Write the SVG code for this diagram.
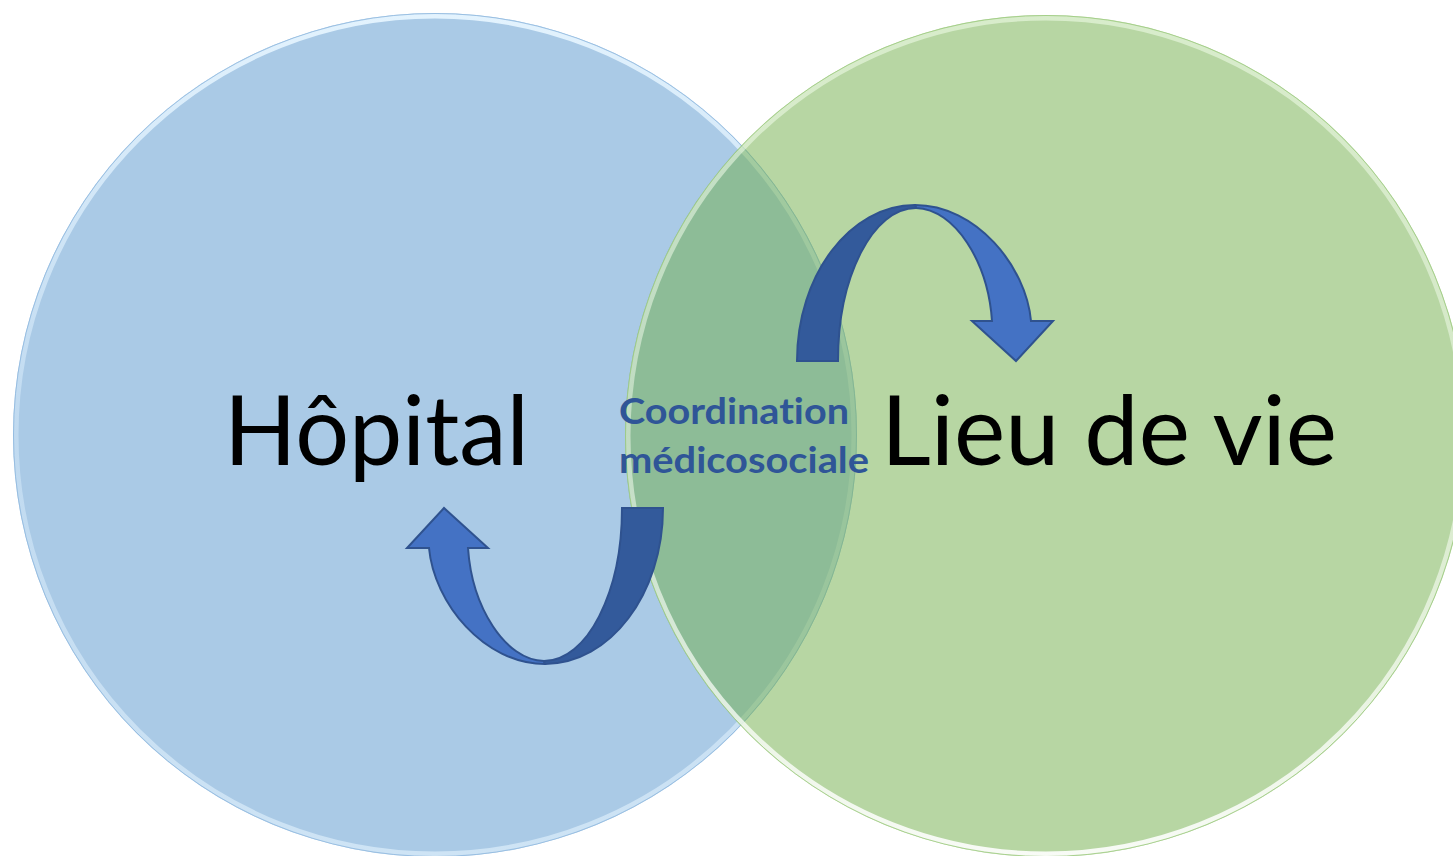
<svg xmlns="http://www.w3.org/2000/svg" width="1453" height="856" viewBox="0 0 1453 856">
  <defs>
    <style>
      .big { font-family: Lato, "Liberation Sans", sans-serif; font-size: 96px; fill: #000000; font-variant-ligatures: none; }
      .coord { font-family: Lato, "Liberation Sans", sans-serif; font-weight: bold; font-size: 37px; fill: #2F5597; font-variant-ligatures: none; }
      .dark { fill: #335A9B; stroke: #2F528F; stroke-width: 2; stroke-linejoin: miter; }
      .light { fill: #4472C4; stroke: #2F528F; stroke-width: 2; stroke-linejoin: miter; }
    </style>
    <linearGradient id="blueRim" x1="0" y1="0" x2="0" y2="1">
      <stop offset="0" stop-color="#e6f5ff" stop-opacity="0.95"/>
      <stop offset="0.5" stop-color="#d6eafa" stop-opacity="0.5"/>
      <stop offset="1" stop-color="#e6f5ff" stop-opacity="0.6"/>
    </linearGradient>
    <linearGradient id="greenRim" x1="0" y1="0" x2="0" y2="1">
      <stop offset="0" stop-color="#eefbe6" stop-opacity="0.6"/>
      <stop offset="0.5" stop-color="#f2fbec" stop-opacity="0.5"/>
      <stop offset="1" stop-color="#ffffff" stop-opacity="0.9"/>
    </linearGradient>
    <g id="curvedArrow">
      <path class="light" d="M 915,205 C 976,205 1026,266 1031,321 L 1053,321 L 1016,361 L 972,321 L 992,321 C 988,262 955,209 916,208 Z"/>
      <path class="dark" d="M 797,361 C 797,275 850,205 915,205 L 916,208 C 873,208 838,276 838,361 Z"/>
    </g>
  </defs>

  <g id="hopital">
    <circle cx="435" cy="435" r="422" fill="#AACAE6"/>
    <circle cx="435" cy="435" r="419" fill="none" stroke="url(#blueRim)" stroke-width="5"/>
    <circle cx="435" cy="435" r="421.5" fill="none" stroke="#8fb8df" stroke-width="1" opacity="0.8"/>
  </g>

  <g id="lieu-de-vie">
    <circle cx="1046" cy="436" r="421" fill="#70AD47" fill-opacity="0.5"/>
    <circle cx="1046" cy="436" r="418" fill="none" stroke="url(#greenRim)" stroke-width="5"/>
    <circle cx="1046" cy="436" r="420.5" fill="none" stroke="#9ccb7e" stroke-width="1" opacity="0.8"/>
  </g>

  <g id="connectors">
    <use href="#curvedArrow"/>
    <use href="#curvedArrow" transform="rotate(180 730 434.5)"/>
  </g>

  <g id="labels">
    <text class="big" x="224" y="465" textLength="305" lengthAdjust="spacingAndGlyphs">Hôpital</text>
    <text class="big" x="881" y="465" textLength="456" lengthAdjust="spacingAndGlyphs">Lieu de vie</text>
    <text class="coord" x="619" y="424" textLength="230" lengthAdjust="spacingAndGlyphs">Coordination</text>
    <text class="coord" x="619" y="473" textLength="250" lengthAdjust="spacingAndGlyphs">médicosociale</text>
  </g>
</svg>
